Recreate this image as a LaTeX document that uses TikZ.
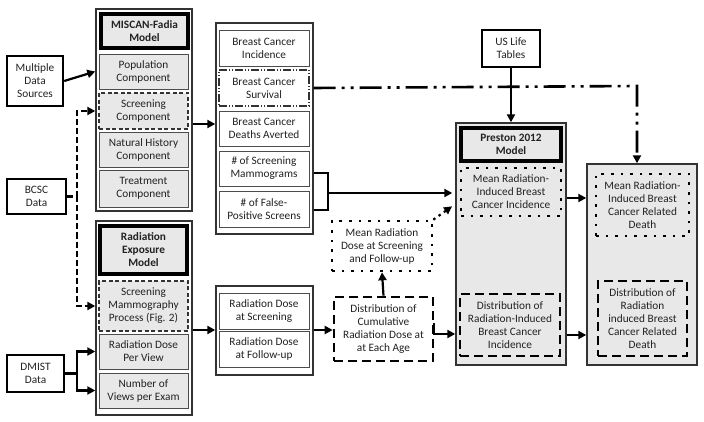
\documentclass[tikz,border=0pt]{standalone}
\usepackage{fontspec}
\setmainfont{Carlito}
\usetikzlibrary{arrows.meta}
\definecolor{boxgray}{HTML}{E8E8E8}
\definecolor{txt}{HTML}{222222}
\tikzset{
  base/.style={align=center, inner sep=1pt, text=txt, font=\fontsize{11.3}{13}\selectfont},
  outerbox/.style={base, draw=black!80, line width=1.4pt, fill=white},
  outergray/.style={base, draw=black!80, line width=1.4pt, fill=boxgray},
  titlebox/.style={base, draw=black, line width=3.4pt, fill=boxgray, font=\fontsize{11.3}{13}\selectfont\bfseries},
  compbox/.style={base, draw=black!70, line width=0.8pt, fill=boxgray},
  outbox/.style={base, draw=black!70, line width=0.8pt, fill=white},
  extbox/.style={base, draw=black, line width=2.4pt, fill=white},
  thindash/.style={dash pattern=on 4pt off 2.5pt, line width=1.2pt, draw=black!80},
  thindda/.style={dash pattern=on 8pt off 2pt on 1pt off 2pt on 1pt off 2pt, line width=1.2pt, draw=black!80},
  bigdash/.style={base, draw=black, line width=2.6pt, dash pattern=on 9pt off 5pt},
  bigdot/.style={base, draw=black, line width=2.6pt, dash pattern=on 2.6pt off 7pt},
  arr/.style={draw=black, line width=2.2pt, -{Triangle[length=8pt,width=8pt]}},
  dasharr/.style={arr, dash pattern=on 6pt off 3pt},
  dotarr/.style={arr, dash pattern=on 2.5pt off 4pt},
  ddarr/.style={arr, line width=2.6pt, dash pattern=on 22pt off 6pt on 3pt off 6pt on 3pt off 6pt},
  plainline/.style={draw=black, line width=2.2pt},
}
\begin{document}
\begin{tikzpicture}[x=1pt,y=-1pt]
\useasboundingbox (0,0) rectangle (704,422);

% external data boxes
\node[extbox, minimum width=56pt, minimum height=50pt] (multi) at (35,81) {Multiple\\Data\\Sources};
\node[extbox, minimum width=59pt, minimum height=35pt] (bcsc) at (36.5,196.5) {BCSC\\Data};
\node[extbox, minimum width=57pt, minimum height=37pt] (dmist) at (35.5,373.5) {DMIST\\Data};
\node[extbox, minimum width=58pt, minimum height=37pt] (uslife) at (511,48.5) {US Life\\Tables};

% MISCAN
\node[outerbox, minimum width=96pt, minimum height=202pt] (miscan) at (144,110) {};
\node[titlebox, minimum width=87pt, minimum height=34pt] (mtitle) at (144.5,31) {MISCAN-Fadia\\Model};
\node[compbox, minimum width=89pt, minimum height=35pt] (pop) at (143.5,71.5) {Population\\Component};
\node[compbox, thindash, minimum width=89pt, minimum height=36pt] (scr) at (143.5,111) {Screening\\Component};
\node[compbox, minimum width=89pt, minimum height=35pt] (nat) at (143.5,149.5) {Natural History\\Component};
\node[compbox, minimum width=89pt, minimum height=37pt] (treat) at (143.5,188.5) {Treatment\\Component};

% Radiation exposure
\node[outerbox, minimum width=96pt, minimum height=194pt] (rad) at (144,318) {};
\node[titlebox, minimum width=87pt, minimum height=48pt] (rtitle) at (143.5,250) {Radiation\\Exposure\\Model};
\node[compbox, thindash, minimum width=89pt, minimum height=50pt] (smp) at (143.5,306) {Screening\\Mammography\\Process (Fig. 2)};
\node[compbox, minimum width=89pt, minimum height=35pt] (rdpv) at (143.5,351.5) {Radiation Dose\\Per View};
\node[compbox, minimum width=89pt, minimum height=35pt] (nvpe) at (143.5,390.5) {Number of\\Views per Exam};

% outputs
\node[outerbox, minimum width=97pt, minimum height=211pt] (out) at (264.5,128.5) {};
\node[outbox, minimum width=90pt, minimum height=36pt] (bci) at (264,48) {Breast Cancer\\Incidence};
\node[outbox, thindda, minimum width=90pt, minimum height=36pt] (bcs) at (264,88) {Breast Cancer\\Survival};
\node[outbox, minimum width=90pt, minimum height=35pt] (bcd) at (264,128.5) {Breast Cancer\\Deaths Averted};
\node[outbox, minimum width=90pt, minimum height=35pt] (nsm) at (264,168.5) {\# of Screening\\Mammograms};
\node[outbox, minimum width=90pt, minimum height=36pt] (nfp) at (264,209) {\# of False-\\Positive Screens};

% dose
\node[outerbox, minimum width=97pt, minimum height=89pt] (dose) at (264.5,330.5) {};
\node[outbox, minimum width=90pt, minimum height=36pt] (dscr) at (264,311) {Radiation Dose\\at Screening};
\node[outbox, minimum width=90pt, minimum height=36pt] (dfu) at (264,349) {Radiation Dose\\at Follow-up};

\node[bigdot, fill=white, minimum width=100pt, minimum height=50pt] (meandose) at (382,246) {Mean Radiation\\Dose at Screening\\and Follow-up};
\node[bigdash, fill=white, minimum width=99pt, minimum height=64pt] (distdose) at (383.5,329) {Distribution of\\Cumulative\\Radiation Dose at\\at Each Age};

% Preston
\node[outergray, minimum width=110pt, minimum height=242pt] (preston) at (511,244) {};
\node[titlebox, minimum width=100pt, minimum height=33pt] (ptitle) at (511,144.5) {Preston 2012\\Model};
\node[bigdot, minimum width=100pt, minimum height=48pt] (meaninc) at (511,192) {Mean Radiation-\\Induced Breast\\Cancer Incidence};
\node[bigdash, minimum width=100pt, minimum height=62pt] (distinc) at (510,325) {Distribution of\\Radiation-Induced\\Breast Cancer\\Incidence};

% death
\node[outergray, minimum width=110pt, minimum height=201pt] (death) at (642,264.5) {};
\node[bigdot, minimum width=93pt, minimum height=62pt] (meandeath) at (642.5,205) {Mean Radiation-\\Induced Breast\\Cancer Related\\Death};
\node[bigdash, minimum width=89pt, minimum height=75pt] (distdeath) at (642.5,318.5) {Distribution of\\Radiation\\induced Breast\\Cancer Related\\Death};

% connectors
\draw[arr] (multi.east) -- (miscan.west |- pop.west);

\coordinate (bj) at (77,196.5);
\draw[dasharr] (bcsc.east) -- (bj) |- (miscan.west |- scr.west);
\draw[dasharr] (bj) |- (rad.west |- smp.west);

\coordinate (dj) at (77,373.5);
\draw[arr] (dmist.east) -- (dj) |- (rad.west |- rdpv.west);
\draw[arr] (dj) |- (rad.west |- nvpe.west);

\draw[arr] (miscan.east |- 0,124) -- (out.west |- 0,124);
\draw[arr] (rad.east |- 0,330) -- (dose.west |- 0,330);
\draw[arr] (dose.east |- 0,330) -- (distdose.west |- 0,330);

\coordinate (bk) at (328,193);
\draw[plainline] (out.east |- 0,173) -| (bk) |- (out.east |- 0,210);
\draw[arr, shorten >=3pt] (bk) -- (preston.west |- bk);

\coordinate (sv) at (637,86);
\draw[ddarr] (out.east |- bcs.east) -- (sv) -- (sv |- death.north);

\draw[arr] (uslife.south) -- (preston.north);
\draw[arr] (distdose.north) -- (meandose.south);
\draw[dotarr, shorten >=4pt] (meandose.north east) -- (preston.west |- 0,204);
\draw[arr] (distdose.east |- 0,323) -- (distdose.east |- 0,334) -- (preston.west |- 0,334);

\draw[arr] (preston.east |- 0,198) -- (death.west |- 0,198);
\draw[arr] (preston.east |- 0,335) -- (death.west |- 0,335);
\end{tikzpicture}
\end{document}
